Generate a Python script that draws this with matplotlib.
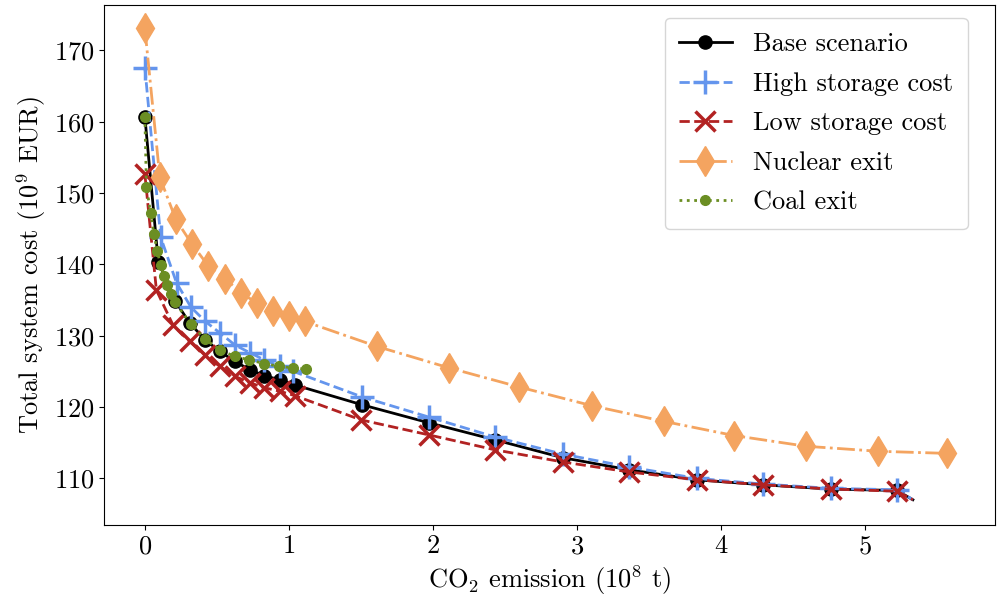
import matplotlib
matplotlib.use("Agg")
import matplotlib.pyplot as plt

plt.rcParams['font.family'] = 'serif'
plt.rcParams['font.serif'] = ['cmr10']
plt.rcParams['mathtext.fontset'] = 'cm'
plt.rcParams['axes.formatter.use_mathtext'] = True
plt.rcParams['font.size'] = 19

base_x = [0, 0.093, 0.21, 0.31, 0.42, 0.52, 0.625, 0.73, 0.83, 0.94, 1.04,
          1.51, 1.97, 2.43, 2.9, 3.36, 3.83, 4.29, 4.76, 5.22, 5.33]
base_y = [160.7, 140.4, 134.9, 131.8, 129.4, 127.8, 126.4, 125.2, 124.4, 123.8, 123.1,
          120.3, 117.8, 115.4, 112.9, 111.2, 109.8, 109.1, 108.5, 108.3, 107.0]

high_x = [0, 0.11, 0.22, 0.32, 0.42, 0.52, 0.625, 0.73, 0.83, 0.94, 1.03,
          1.51, 1.97, 2.43, 2.9, 3.36, 3.83, 4.29, 4.76, 5.22, 5.33]
high_y = [167.6, 143.8, 137.4, 134.0, 132.0, 130.4, 128.7, 127.6, 126.6, 125.7, 125.0,
          121.4, 118.6, 115.8, 113.4, 111.6, 110.0, 109.2, 108.6, 108.4, 107.0]

low_x = [0, 0.08, 0.195, 0.31, 0.42, 0.52, 0.625, 0.73, 0.83, 0.94, 1.04,
         1.5, 1.97, 2.43, 2.9, 3.36, 3.83, 4.29, 4.76, 5.22, 5.33]
low_y = [152.7, 136.4, 131.5, 129.2, 127.3, 125.7, 124.3, 123.4, 122.7, 122.2, 121.6,
         118.2, 116.1, 114.0, 112.3, 110.9, 109.8, 109.1, 108.5, 108.2, 107.0]

nuc_x = [0, 0.104, 0.215, 0.325, 0.44, 0.555, 0.67, 0.775, 0.89, 1.0, 1.11,
         1.61, 2.11, 2.60, 3.10, 3.60, 4.09, 4.59, 5.09, 5.57]
nuc_y = [173.1, 152.2, 146.3, 142.9, 139.8, 138.0, 136.0, 134.6, 133.4, 132.7, 132.0,
         128.5, 125.5, 122.8, 120.2, 118.0, 116.0, 114.5, 113.8, 113.5]

coal_x = [0, 0.011, 0.04, 0.063, 0.086, 0.109, 0.132, 0.155, 0.178, 0.208,
          0.32, 0.42, 0.52, 0.625, 0.725, 0.83, 0.93, 1.03, 1.12]
coal_y = [160.7, 150.9, 147.2, 144.2, 141.9, 139.9, 138.4, 137.1, 135.9, 134.7,
          131.6, 129.5, 128.0, 127.1, 126.6, 126.1, 125.7, 125.5, 125.3]

labels = ['Base scenario', 'High storage cost', 'Low storage cost', 'Nuclear exit', 'Coal exit']

fig = plt.figure(figsize=(9.98, 5.99), dpi=100)
ax = fig.add_axes([0.104, 0.124, 0.893, 0.868])

ax.plot(base_x, base_y, color='black', ls='-', lw=2, marker='o', ms=9.5,
        markevery=list(range(len(base_x) - 1)), label=labels[0])
ax.plot(high_x, high_y, color='cornflowerblue', ls='--', lw=2, marker='+', ms=17,
        mew=2.5, markevery=list(range(len(high_x) - 1)), label=labels[1])
ax.plot(low_x, low_y, color='firebrick', ls='--', lw=2, marker='x', ms=15,
        mew=2.5, markevery=list(range(len(low_x) - 1)), label=labels[2])
ax.plot(nuc_x, nuc_y, color='sandybrown', ls='-.', lw=2, marker='d', ms=15,
        label=labels[3])
ax.plot(coal_x, coal_y, color='olivedrab', ls=':', lw=2, marker='o', ms=7,
        label=labels[4])

ax.set_xlim(-0.285, 5.90)
ax.set_ylim(103.5, 176.4)
ax.set_xlabel(r'CO$_2$ emission ($10^8$ t)')
ax.set_ylabel(r'Total system cost ($10^9$ EUR)')
ax.set_yticks([110, 120, 130, 140, 150, 160, 170])
ax.set_xticks([0, 1, 2, 3, 4, 5])
ax.legend(loc='upper right', bbox_to_anchor=(0.984, 1.0), fontsize=19,
          labelspacing=0.6, borderpad=0.55)

fig.savefig('out.png', dpi=100)
